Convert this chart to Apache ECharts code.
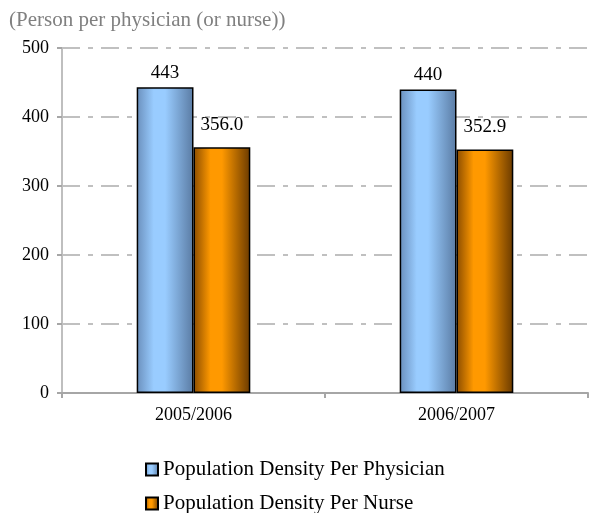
<!DOCTYPE html>
<html><head><meta charset="utf-8">
<script src="https://cdn.jsdelivr.net/npm/echarts@6/dist/echarts.min.js"></script>
<style>html,body{margin:0;padding:0;background:#fff}#c{width:589px;height:513px}</style>
</head><body><div id="c"></div>
<script>
const categories = ['2005/2006', '2006/2007'];
const physician = [443, 440];
const nurse = [356.0, 352.9];
const seriesNames = ['Population Density Per Physician', 'Population Density Per Nurse'];
const yTicks = [0, 100, 200, 300, 400, 500];

const F = 'Liberation Serif, Times New Roman, serif';
function grad(a, b, c) {
  return new echarts.graphic.LinearGradient(0, 0, 1, 0, [
    {offset: 0, color: a}, {offset: 0.3, color: b}, {offset: 0.5, color: b}, {offset: 1, color: c}
  ]);
}
function legendFor(name, top) {
  return {orient: 'horizontal', left: 140, top: top, itemWidth: 12, itemHeight: 12,
    icon: 'rect', textStyle: {fontFamily: F, fontSize: 21, color: '#000'},
    itemStyle: {borderColor: '#000', borderWidth: 2}, data: [name]};
}
const chart = echarts.init(document.getElementById('c'));
chart.setOption({
  animation: false,
  title: {text: '(Person per physician (or nurse))', left: 4, top: 5,
    textStyle: {fontFamily: F, fontSize: 21, fontWeight: 'normal', color: '#808080'}},
  legend: [legendFor(seriesNames[0], 454), legendFor(seriesNames[1], 488)],
  grid: {left: 62, right: 1, top: 48, bottom: 120},
  xAxis: {type: 'category', data: categories,
    axisLine: {lineStyle: {color: '#a6a6a6', width: 2}},
    axisTick: {show: true, length: 5, lineStyle: {color: '#a6a6a6', width: 2}},
    axisLabel: {fontFamily: F, fontSize: 18, color: '#000', margin: 13}},
  yAxis: {type: 'value', min: yTicks[0], max: yTicks[yTicks.length - 1], interval: 100,
    axisLine: {show: true, lineStyle: {color: '#bfbfbf', width: 2}},
    axisTick: {show: true, length: 5, lineStyle: {color: '#a6a6a6', width: 2}},
    axisLabel: {fontFamily: F, fontSize: 18, color: '#000', margin: 13},
    splitLine: {lineStyle: {color: '#c0c0c0', width: 2, type: [18, 8, 5, 8]}}},
  series: [
    {name: seriesNames[0], type: 'bar', data: physician, barWidth: '21.6%', barGap: '0%',
      itemStyle: {color: grad('#6a8fbc', '#99ccff', '#5a7ba3'), borderColor: '#000', borderWidth: 1.5},
      label: {show: true, position: 'top', distance: 5, fontFamily: F, fontSize: 19, color: '#000',
        formatter: p => Math.round(p.value).toString()}},
    {name: seriesNames[1], type: 'bar', data: nurse, barWidth: '21.6%',
      itemStyle: {color: grad('#8a4c00', '#ff9900', '#6a3a00'), borderColor: '#000', borderWidth: 1.5},
      label: {show: true, position: 'top', distance: 13, fontFamily: F, fontSize: 19, color: '#000',
        formatter: p => p.value.toFixed(1)}}
  ]
});
</script></body></html>
